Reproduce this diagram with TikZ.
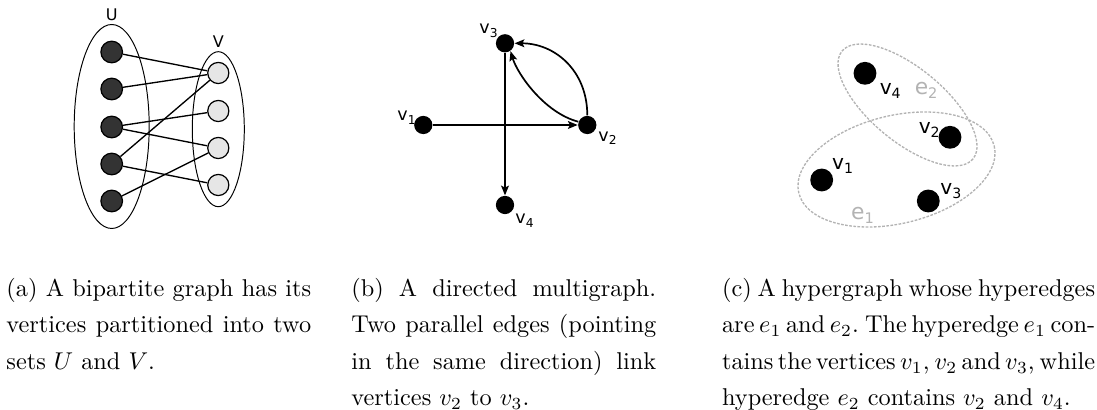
\documentclass[tikz,border=0pt]{standalone}
\usepackage{amsmath,amssymb}
\usepackage{fontspec}
\newfontfamily\graphfont{DejaVu Sans}
\usepackage{xcolor}
\usepackage{tikz}
\usetikzlibrary{arrows.meta}

\definecolor{udark}{HTML}{333333}
\definecolor{vlight}{HTML}{E6E6E6}
\definecolor{hgray}{HTML}{B3B3B3}

\begin{document}
\begin{tikzpicture}[x=0.4115pt, y=-0.4115pt,
  unode/.style={circle,draw,line width=0.5pt,fill=udark,minimum size=8.9pt,inner sep=0pt},
  vnode/.style={circle,draw,line width=0.5pt,fill=vlight,minimum size=8.7pt,inner sep=0pt},
  dnode/.style={circle,fill=black,minimum size=7.5pt,inner sep=0pt},
  hnode/.style={circle,fill=black,minimum size=9.4pt,inner sep=0pt},
  setlabel/.style={font=\graphfont\fontsize{6.6pt}{8pt}\selectfont,inner sep=0pt},
  dlabel/.style={font=\graphfont\fontsize{7.2pt}{8pt}\selectfont,inner sep=0pt,anchor=base west},
  hlabel/.style={font=\graphfont\fontsize{8.3pt}{10pt}\selectfont,inner sep=0pt,anchor=base west},
  elabel/.style={font=\graphfont\fontsize{9pt}{10pt}\selectfont,text=hgray,inner sep=0pt,anchor=base west},
  hedge/.style={hgray,line width=0.55pt,dash pattern=on 1.1pt off 0.6pt},
  arc/.style={-{Stealth[length=4pt,width=3.2pt,inset=0.8pt]},line width=0.7pt},
  caption/.style={anchor=north west,inner sep=0pt,align=justify,font={\fontsize{10pt}{15pt}\selectfont}}
]
\useasboundingbox (0,0) rectangle (1097,410);

% (a) bipartite graph
\draw[line width=0.4pt] (111.7,126.5) ellipse [x radius=37.5, y radius=102];
\draw[line width=0.4pt] (218.3,129.2) ellipse [x radius=26, y radius=77.5];
\node[setlabel] (U-lab) at (111.7,15) {U};
\node[setlabel] (V-lab) at (218.3,41.7) {V};
\foreach \i/\y in {1/52,2/89,3/127,4/164,5/201}
  \node[unode] (u\i) at (111.7,\y) {};
\foreach \i/\y in {1/73,2/111,3/148,4/185}
  \node[vnode] (v\i) at (218.3,\y) {};
\foreach \a/\b in {1/1,2/1,3/2,3/3,4/1,4/4,5/3}
  \draw[line width=0.55pt] (u\a) -- (v\b);

% (b) directed multigraph
\node[dnode] (d1) at (423.3,125) {};
\node[dnode] (d2) at (587.3,125) {};
\node[dnode] (d3) at (505,43.3) {};
\node[dnode] (d4) at (505,205) {};
\draw[arc] (d1) -- (d2);
\draw[arc] (d3) -- (d4);
\draw[arc] (d2.north) .. controls +(0,-45) and +(40,0) .. (d3.east);
\draw[arc] (d2.160) .. controls +(-34,-9) and +(7,23) .. (d3.-55);
\node[dlabel] (d1-lab) at (397,121) {v\textsubscript{1}};
\node[dlabel] (d2-lab) at (598,141.7) {v\textsubscript{2}};
\node[dlabel] (d3-lab) at (479,34) {v\textsubscript{3}};
\node[dlabel] (d4-lab) at (515,224) {v\textsubscript{4}};

% (c) hypergraph
\draw[hedge, rotate around={13.5:(896.5,169.5)}] (896.5,169.5) ellipse [x radius=100.5, y radius=54];
\draw[hedge, rotate around={-39.5:(907.5,105)}] (907.5,105) ellipse [x radius=84.8, y radius=36.8];
\node[hnode] (h1) at (821.7,180) {};
\node[hnode] (h2) at (950,137.3) {};
\node[hnode] (h3) at (928.3,201) {};
\node[hnode] (h4) at (865,73.3) {};
\node[hlabel] (h1-lab) at (831.7,170) {v\textsubscript{1}};
\node[hlabel] (h2-lab) at (918.3,133.3) {v\textsubscript{2}};
\node[hlabel] (h3-lab) at (940,195) {v\textsubscript{3}};
\node[hlabel] (h4-lab) at (879.3,95) {v\textsubscript{4}};
\node[elabel] (e1-lab) at (850.7,220) {e\textsubscript{1}};
\node[elabel] (e2-lab) at (914.3,95) {e\textsubscript{2}};

% captions
\node[caption,text width=125.4pt] (cap-a) at (6,277.8) {(a) A bipartite graph has its vertices partitioned into two sets $U$ and $V$.};
\node[caption,text width=125.4pt] (cap-b) at (351,277.8) {(b) A directed multigraph. Two parallel edges (pointing in the same direction) link vertices $v_2$ to $v_3$.};
\node[caption,text width=153.5pt] (cap-c) at (721.6,277.8) {\spaceskip=3.33pt plus 1.67pt minus 1.7pt \xspaceskip=4pt plus 1.67pt minus 1.7pt
  (c) A hypergraph whose hyperedges\linebreak are $e_1$ and $e_2$. The hyperedge $e_1$ con-\linebreak tains the vertices $v_1$, $v_2$ and $v_3$, while\linebreak hyperedge $e_2$ contains $v_2$ and $v_4$.};
\end{tikzpicture}
\end{document}
